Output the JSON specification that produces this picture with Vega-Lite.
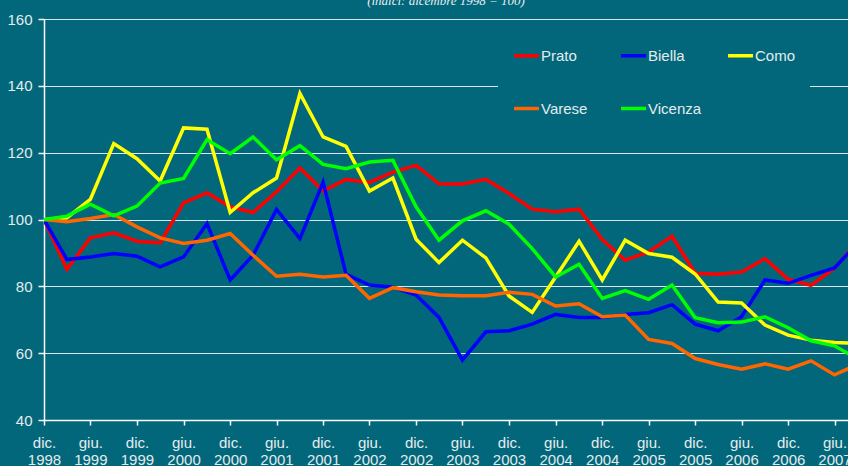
{
  "$schema": "https://vega.github.io/schema/vega-lite/v6.json",
  "autosize": {"type": "none"},
  "padding": {"left": 44, "top": 19, "right": 0, "bottom": 46},
  "width": 804,
  "height": 401,
  "background": "#02677A",
  "title": {"text": "(indici: dicembre 1998 = 100)", "font": "Liberation Serif", "fontStyle": "italic", "fontWeight": "normal", "fontSize": 13, "color": "#e8eef0", "baseline": "alphabetic", "frame": "group", "offset": 6, "dy": 12, "anchor": "middle"},
  "config": {
    "view": {"stroke": null},
    "axis": {"domainColor": "#ffffff", "domainWidth": 1.5, "tickColor": "#ffffff", "tickWidth": 1.5, "labelColor": "#e4ecee", "labelFont": "Liberation Sans", "labelFontSize": 15, "gridColor": "#ffffff", "gridWidth": 1.2, "gridOpacity": 0.85, "title": null}
  },
  "data": {"values": [
    {"data": "1998-12-01T00:00:00", "Prato": 100, "Biella": 100, "Como": 100, "Varese": 100, "Vicenza": 100},
    {"data": "1999-03-01T00:00:00", "Prato": 85.1, "Biella": 88.0, "Como": 100.5, "Varese": 99.3, "Vicenza": 101.0},
    {"data": "1999-06-01T00:00:00", "Prato": 94.5, "Biella": 88.8, "Como": 106.0, "Varese": 100.3, "Vicenza": 104.6},
    {"data": "1999-09-01T00:00:00", "Prato": 96.0, "Biella": 89.8, "Como": 122.7, "Varese": 101.5, "Vicenza": 101.1},
    {"data": "1999-12-01T00:00:00", "Prato": 93.5, "Biella": 89.0, "Como": 118.2, "Varese": 97.8, "Vicenza": 104.0},
    {"data": "2000-03-01T00:00:00", "Prato": 93.0, "Biella": 85.8, "Como": 111.5, "Varese": 94.5, "Vicenza": 110.9},
    {"data": "2000-06-01T00:00:00", "Prato": 105.0, "Biella": 88.8, "Como": 127.4, "Varese": 92.8, "Vicenza": 112.3},
    {"data": "2000-09-01T00:00:00", "Prato": 108.0, "Biella": 98.8, "Como": 127.0, "Varese": 93.8, "Vicenza": 123.9},
    {"data": "2000-12-01T00:00:00", "Prato": 103.8, "Biella": 81.9, "Como": 102.1, "Varese": 95.8, "Vicenza": 119.7},
    {"data": "2001-03-01T00:00:00", "Prato": 102.1, "Biella": 89.3, "Como": 108.0, "Varese": 89.3, "Vicenza": 124.7},
    {"data": "2001-06-01T00:00:00", "Prato": 108.3, "Biella": 103.0, "Como": 112.4, "Varese": 83.0, "Vicenza": 117.9},
    {"data": "2001-09-01T00:00:00", "Prato": 115.4, "Biella": 94.3, "Como": 137.7, "Varese": 83.6, "Vicenza": 122.1},
    {"data": "2001-12-01T00:00:00", "Prato": 108.5, "Biella": 111.2, "Como": 124.7, "Varese": 82.8, "Vicenza": 116.5},
    {"data": "2002-03-01T00:00:00", "Prato": 112.0, "Biella": 83.6, "Como": 121.9, "Varese": 83.3, "Vicenza": 115.2},
    {"data": "2002-06-01T00:00:00", "Prato": 111.1, "Biella": 80.4, "Como": 108.5, "Varese": 76.4, "Vicenza": 117.2},
    {"data": "2002-09-01T00:00:00", "Prato": 114.2, "Biella": 79.7, "Como": 112.4, "Varese": 79.6, "Vicenza": 117.7},
    {"data": "2002-12-01T00:00:00", "Prato": 116.2, "Biella": 77.4, "Como": 94.1, "Varese": 78.4, "Vicenza": 103.8},
    {"data": "2003-03-01T00:00:00", "Prato": 110.7, "Biella": 70.7, "Como": 87.1, "Varese": 77.4, "Vicenza": 93.8},
    {"data": "2003-06-01T00:00:00", "Prato": 110.6, "Biella": 57.9, "Como": 93.8, "Varese": 77.2, "Vicenza": 99.6},
    {"data": "2003-09-01T00:00:00", "Prato": 112.0, "Biella": 66.4, "Como": 88.5, "Varese": 77.2, "Vicenza": 102.6},
    {"data": "2003-12-01T00:00:00", "Prato": 107.8, "Biella": 66.7, "Como": 77.1, "Varese": 78.2, "Vicenza": 98.6},
    {"data": "2004-03-01T00:00:00", "Prato": 103.1, "Biella": 68.7, "Como": 72.2, "Varese": 77.6, "Vicenza": 91.3},
    {"data": "2004-06-01T00:00:00", "Prato": 102.3, "Biella": 71.6, "Como": 82.8, "Varese": 74.1, "Vicenza": 82.8},
    {"data": "2004-09-01T00:00:00", "Prato": 103.1, "Biella": 70.7, "Como": 93.5, "Varese": 74.8, "Vicenza": 86.6},
    {"data": "2004-12-01T00:00:00", "Prato": 94.0, "Biella": 70.7, "Como": 81.9, "Varese": 70.9, "Vicenza": 76.4},
    {"data": "2005-03-01T00:00:00", "Prato": 87.8, "Biella": 71.6, "Como": 93.8, "Varese": 71.4, "Vicenza": 78.7},
    {"data": "2005-06-01T00:00:00", "Prato": 90.3, "Biella": 72.1, "Como": 89.8, "Varese": 64.1, "Vicenza": 76.1},
    {"data": "2005-09-01T00:00:00", "Prato": 95.0, "Biella": 74.5, "Como": 88.7, "Varese": 62.9, "Vicenza": 80.4},
    {"data": "2005-12-01T00:00:00", "Prato": 83.9, "Biella": 68.7, "Como": 83.7, "Varese": 58.4, "Vicenza": 70.6},
    {"data": "2006-03-01T00:00:00", "Prato": 83.6, "Biella": 66.7, "Como": 75.3, "Varese": 56.6, "Vicenza": 69.1},
    {"data": "2006-06-01T00:00:00", "Prato": 84.3, "Biella": 70.9, "Como": 75.0, "Varese": 55.2, "Vicenza": 69.3},
    {"data": "2006-09-01T00:00:00", "Prato": 88.3, "Biella": 81.9, "Como": 68.4, "Varese": 56.8, "Vicenza": 70.9},
    {"data": "2006-12-01T00:00:00", "Prato": 82.1, "Biella": 80.9, "Como": 65.4, "Varese": 55.2, "Vicenza": 67.6},
    {"data": "2007-03-01T00:00:00", "Prato": 80.3, "Biella": 83.3, "Como": 63.9, "Varese": 57.7, "Vicenza": 63.7},
    {"data": "2007-06-01T00:00:00", "Prato": 85.4, "Biella": 85.5, "Como": 63.2, "Varese": 53.5, "Vicenza": 62.2},
    {"data": "2007-09-01T00:00:00", "Prato": 93.5, "Biella": 93.0, "Como": 62.9, "Varese": 56.7, "Vicenza": 58.2}
  ]},
  "transform": [{"fold": ["Prato", "Biella", "Como", "Varese", "Vicenza"], "as": ["citta", "indice"]}],
  "mark": {"type": "line", "strokeWidth": 3.5, "clip": true},
  "encoding": {
    "x": {
      "field": "data", "type": "temporal",
      "scale": {"domain": [{"year": 1998, "month": 12, "date": 1}, {"year": 2007, "month": 7, "date": 24}]},
      "axis": {
        "grid": false, "tickSize": 5, "labelPadding": 10, "labelLineHeight": 17, "labelAngle": 0, "labelFlush": false, "labelOverlap": false, "labelBaseline": "top",
        "values": [
          {"year": 1998, "month": 12, "date": 1}, {"year": 1999, "month": 6, "date": 1},
          {"year": 1999, "month": 12, "date": 1}, {"year": 2000, "month": 6, "date": 1},
          {"year": 2000, "month": 12, "date": 1}, {"year": 2001, "month": 6, "date": 1},
          {"year": 2001, "month": 12, "date": 1}, {"year": 2002, "month": 6, "date": 1},
          {"year": 2002, "month": 12, "date": 1}, {"year": 2003, "month": 6, "date": 1},
          {"year": 2003, "month": 12, "date": 1}, {"year": 2004, "month": 6, "date": 1},
          {"year": 2004, "month": 12, "date": 1}, {"year": 2005, "month": 6, "date": 1},
          {"year": 2005, "month": 12, "date": 1}, {"year": 2006, "month": 6, "date": 1},
          {"year": 2006, "month": 12, "date": 1}, {"year": 2007, "month": 6, "date": 1}
        ],
        "labelExpr": "[month(datum.value) == 11 ? 'dic.' : 'giu.', '' + year(datum.value)]"
      }
    },
    "y": {
      "field": "indice", "type": "quantitative",
      "scale": {"domain": [40, 160], "nice": false},
      "axis": {"grid": true, "values": [40, 60, 80, 100, 120, 140, 160], "tickSize": 6, "labelPadding": 6}
    },
    "color": {
      "field": "citta", "type": "nominal",
      "scale": {"domain": ["Prato", "Biella", "Como", "Varese", "Vicenza"], "range": ["#ff0000", "#0000ff", "#ffff00", "#ff6600", "#00ff00"]},
      "legend": {
        "orient": "none", "legendX": 454, "legendY": 8, "direction": "horizontal", "columns": 3,
        "symbolType": "stroke", "symbolSize": 625, "symbolStrokeWidth": 3.5,
        "labelFont": "Liberation Sans", "labelFontSize": 15, "labelColor": "#e4ecee", "labelOffset": 0,
        "fillColor": "#02677A", "padding": 14, "rowPadding": 30, "columnPadding": 19, "gridAlign": "all", "title": null
      }
    }
  }
}
